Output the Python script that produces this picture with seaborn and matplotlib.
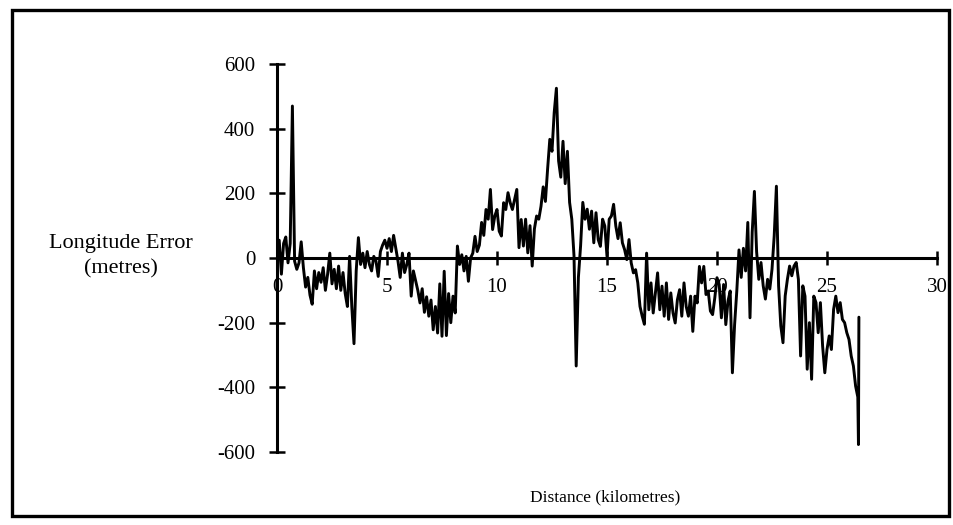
import matplotlib
matplotlib.use("Agg")
import matplotlib.pyplot as plt
from matplotlib.patches import Rectangle
import seaborn as sns
import pandas as pd

# Along-track distance of each fix (km)
distance_km = [
    0.0, 0.1, 0.2, 0.3, 0.4, 0.5, 0.6, 0.7, 0.8, 0.9,
    1.0, 1.1, 1.2, 1.3, 1.4, 1.5, 1.6, 1.7, 1.8, 1.9,
    2.0, 2.1, 2.2, 2.3, 2.4, 2.5, 2.6, 2.7, 2.8, 2.9,
    3.0, 3.1, 3.2, 3.3, 3.4, 3.5, 3.6, 3.7, 3.8, 3.9,
    4.0, 4.1, 4.2, 4.3, 4.4, 4.5, 4.6, 4.7, 4.8, 4.9,
    5.0, 5.1, 5.2, 5.3, 5.4, 5.5, 5.6, 5.7, 5.8, 5.9,
    6.0, 6.1, 6.2, 6.3, 6.4, 6.5, 6.6, 6.7, 6.8, 6.9,
    7.0, 7.1, 7.2, 7.3, 7.4, 7.5, 7.6, 7.7, 7.8, 7.9,
    8.0, 8.1, 8.2, 8.3, 8.4, 8.5, 8.6, 8.7, 8.8, 8.9,
    9.0, 9.1, 9.2, 9.3, 9.4, 9.5, 9.6, 9.7, 9.8, 9.9,
    10.0, 10.1, 10.2, 10.3, 10.4, 10.5, 10.6, 10.7, 10.8, 10.9,
    11.0, 11.1, 11.2, 11.3, 11.4, 11.5, 11.6, 11.7, 11.8, 11.9,
    12.0, 12.1, 12.2, 12.3, 12.4, 12.5, 12.6, 12.7, 12.8, 12.9,
    13.0, 13.1, 13.2, 13.3, 13.4, 13.5, 13.6, 13.7, 13.8, 13.9,
    14.0, 14.1, 14.2, 14.3, 14.4, 14.5, 14.6, 14.7, 14.8, 14.9,
    15.0, 15.1, 15.2, 15.3, 15.4, 15.5, 15.6, 15.7, 15.8, 15.9,
    16.0, 16.1, 16.2, 16.3, 16.4, 16.5, 16.6, 16.7, 16.8, 16.9,
    17.0, 17.1, 17.2, 17.3, 17.4, 17.5, 17.6, 17.7, 17.8, 17.9,
    18.0, 18.1, 18.2, 18.3, 18.4, 18.5, 18.6, 18.7, 18.8, 18.9,
    19.0, 19.1, 19.2, 19.3, 19.4, 19.5, 19.6, 19.7, 19.8, 19.9,
    20.0, 20.1, 20.2, 20.3, 20.4, 20.5, 20.6, 20.7, 20.8, 20.9,
    21.0, 21.1, 21.2, 21.3, 21.4, 21.5, 21.6, 21.7, 21.8, 21.9,
    22.0, 22.1, 22.2, 22.3, 22.4, 22.5, 22.6, 22.7, 22.8, 22.9,
    23.0, 23.1, 23.2, 23.3, 23.4, 23.5, 23.6, 23.7, 23.8, 23.9,
    24.0, 24.1, 24.2, 24.3, 24.4, 24.5, 24.6, 24.7, 24.8, 24.9,
    25.0, 25.1, 25.2, 25.3, 25.4, 25.5, 25.6, 25.7, 25.8, 25.9,
    26.0, 26.1, 26.2, 26.3, 26.4, 26.43, 26.45,
]

# Longitude error at each fix (m)
error_m = [
    0, 55, -50, 45, 65, -15, 45, 470, -10, -35,
    -15, 50, -30, -90, -60, -115, -143, -40, -95, -45,
    -75, -30, -100, -50, 15, -80, -35, -95, -25, -100,
    -45, -110, -150, 5, -150, -265, -40, 63, -20, 15,
    -30, 20, -20, -40, 5, -10, -57, 20, 40, 55,
    30, 60, 20, 70, 30, -10, -60, 15, -45, -20,
    15, -118, -40, -70, -100, -139, -95, -168, -120, -180,
    -130, -222, -150, -232, -80, -242, -41, -240, -110, -200,
    -118, -170, 37, -20, 10, -40, 5, -72, 0, 15,
    67, 20, 40, 110, 70, 150, 120, 212, 88, 130,
    150, 83, 68, 171, 150, 202, 171, 150, 181, 212,
    32, 119, 37, 120, 16, 100, -25, 90, 130, 120,
    160, 220, 175, 275, 367, 330, 450, 525, 300, 250,
    361, 230, 330, 172, 120, 7, -334, -60, 38, 172,
    120, 151, 89, 145, 47, 140, 57, 36, 120, 99,
    5, 120, 130, 166, 99, 60, 109, 47, 26, -5,
    57, -15, -46, -36, -77, -150, -180, -205, 15, -160,
    -77, -170, -108, -46, -160, -87, -180, -77, -190, -108,
    -170, -201, -129, -98, -180, -77, -150, -180, -118, -227,
    -118, -139, -26, -77, -26, -113, -102, -164, -175, -123,
    -61, -82, -185, -82, -206, -133, -102, -355, -206, -102,
    25, -60, 30, -40, 110, -185, 80, 206, 20, -66,
    -14, -86, -127, -66, -96, -35, 68, 222, -86, -210,
    -262, -117, -66, -25, -55, -25, -14, -66, -303, -86,
    -118, -344, -200, -375, -118, -138, -231, -138, -272, -355,
    -283, -241, -283, -159, -118, -169, -138, -190, -200, -231,
    -252, -303, -334, -396, -430, -577, -183,
]

x_ticks = [0, 5, 10, 15, 20, 25, 30]
y_ticks = [-600, -400, -200, 0, 200, 400, 600]

sns.set_style("white")
plt.rcParams["font.family"] = ["Liberation Serif", "DejaVu Serif"]
plt.rcParams["axes.unicode_minus"] = False
plt.rcParams["text.color"] = "black"

W, H = 954, 525
fig = plt.figure(figsize=(W / 100, H / 100), dpi=100)
fig.patch.set_facecolor("white")

# plotting area in pixel terms: x 277..937, y 64..452
ax = fig.add_axes([277 / W, (H - 452) / H, 660 / W, 388 / H])
ax.set_facecolor("none")

df = pd.DataFrame({"Distance": distance_km, "Error": error_m})
sns.lineplot(data=df, x="Distance", y="Error", ax=ax, color="black",
             linewidth=2.1, estimator=None, sort=False, zorder=3)

ax.set_xlim(0, 30)
ax.set_ylim(-600, 600)
ax.set_xticks(x_ticks)
ax.set_yticks(y_ticks)
ax.set_xlabel("")
ax.set_ylabel("")

for side in ("top", "right"):
    ax.spines[side].set_visible(False)
ax.spines["bottom"].set_position(("data", 0))
for side in ("left", "bottom"):
    ax.spines[side].set_color("black")
    ax.spines[side].set_linewidth(2.2)

ax.tick_params(axis="y", left=True, direction="inout", length=11.5, width=1.8,
               labelsize=15, pad=10, colors="black", labelcolor="black")
ax.tick_params(axis="x", bottom=True, direction="inout", length=9.5, width=1.8,
               labelsize=15, pad=10, colors="black", labelcolor="black")

fig.text(121 / W, 1 - 256 / H, "Longitude Error\n(metres)", ha="center",
         va="center", fontsize=16, linespacing=1.45, color="black")
fig.text(605 / W, 1 - 497 / H, "Distance (kilometres)", ha="center",
         va="center", fontsize=12.5, color="black")

# outer frame around the whole chart
fig.patches.append(Rectangle((12 / W, 9 / H), (949 - 12) / W, (516 - 10) / H,
                             transform=fig.transFigure, fill=False,
                             edgecolor="black", linewidth=2.4))

fig.savefig("out.png", dpi=100, facecolor="white")
